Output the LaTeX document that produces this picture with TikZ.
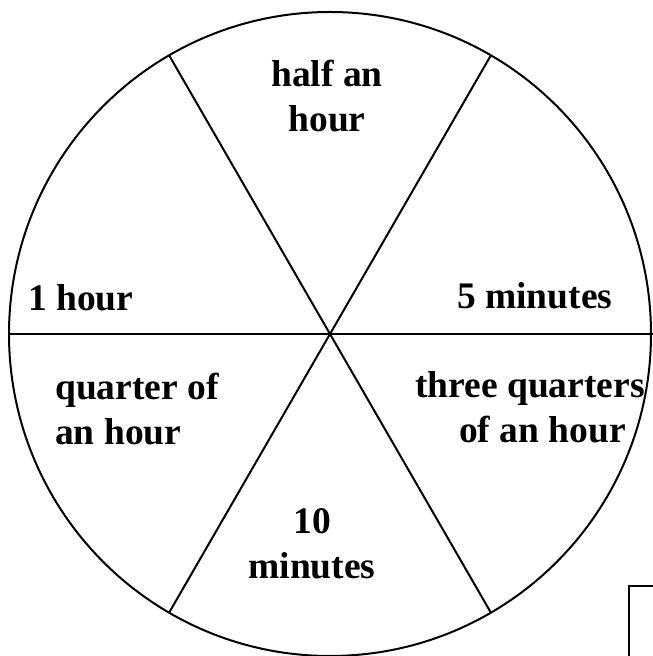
\documentclass[tikz,border=0pt]{standalone}
\usepackage{fontspec}
\setmainfont{Liberation Serif}
\usepackage{tikz}
\usetikzlibrary{positioning, calc}

\tikzset{
  wheel/.style={line width=2pt},
  sector/.style={font=\bfseries\fontsize{37.5}{45}\selectfont, inner sep=0pt},
}

\begin{document}
\begin{tikzpicture}[x=1pt, y=1pt]
  \clip (0,0) rectangle (653,656);
  \coordinate (hub) at (330,322);

  % wheel and spokes
  \draw[wheel] (hub) ellipse [x radius=321, y radius=322];
  \draw[wheel] (8,322) -- (653,322);
  \draw[wheel] ($(hub)+(60:321)$) -- ($(hub)+(240:321)$);
  \draw[wheel] ($(hub)+(120:321)$) -- ($(hub)+(300:321)$);

  % labels (base = last line)
  \node[sector, align=center, anchor=base] (half) at (327,524) {half an\\hour};
  \node[sector, anchor=base west] (onehour) at (28,345) {1 hour};
  \node[sector, anchor=base west] (fivemin) at (457,347) {5 minutes};
  \node[sector, align=left, anchor=base west] (quarter) at (55,211) {quarter of\\an hour};
  \node[sector, align=left, anchor=base west] (threeq) at (415,213) {three quarters\\\hspace*{44pt}of an hour};
  \node[sector, align=center, anchor=base] (tenmin) at (312,77) {10\\minutes};

  % box in the corner
  \draw[line width=2.2pt] (629,70) rectangle (700,-50);
\end{tikzpicture}
\end{document}
